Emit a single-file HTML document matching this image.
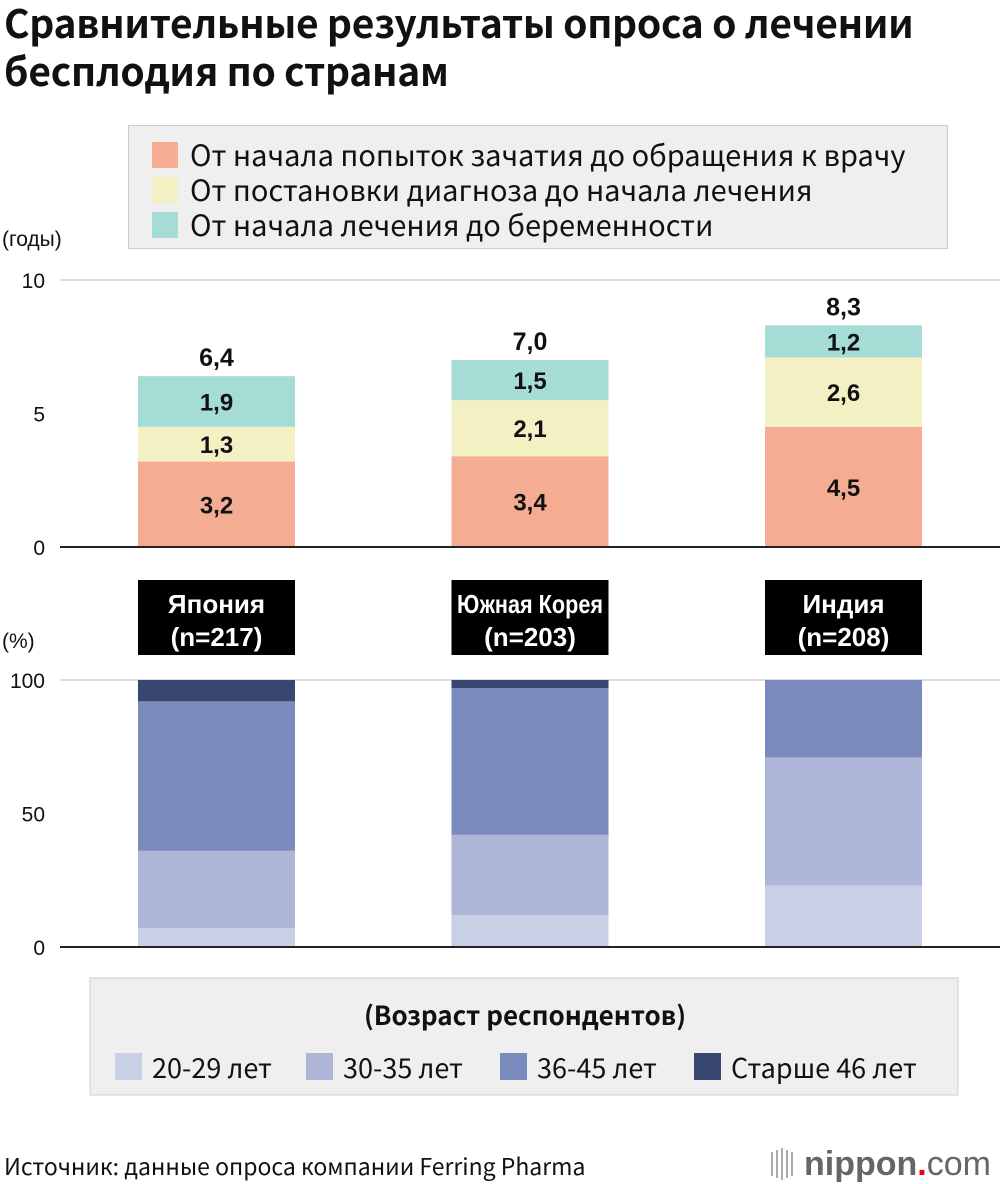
<!DOCTYPE html>
<html><head><meta charset="utf-8">
<style>
body{margin:0;width:1000px;height:1184px;background:#fff;font-family:"Liberation Sans","DejaVu Sans",sans-serif;position:relative;overflow:hidden}
.a{position:absolute}
</style></head><body>
<div class="a" style="left:4px;top:-2px;font-family:'Noto Sans CJK JP','Liberation Sans',sans-serif;font-size:39px;font-weight:bold;line-height:48px;color:#111;letter-spacing:-0.3px;white-space:nowrap">Сравнительные результаты опроса о лечении<br>бесплодия по странам</div>
<div class="a" style="left:128px;top:125px;width:820px;height:124px;background:#efefef;border:1px solid #ccc;box-sizing:border-box"></div>
<svg class="a" style="left:0;top:0" width="1000" height="1184" id="svg"></svg>
<script>
const countries=["Япония","Южная Корея","Индия"];
const nLabels=["(n=217)","(n=203)","(n=208)"];
const doctor=[3.2,3.4,4.5];
const diagnosis=[1.3,2.1,2.6];
const pregnancy=[1.9,1.5,1.2];
const totals=["6,4","7,0","8,3"];
const age2029=[7,12,23];
const age3035=[29,30,48];
const age3645=[56,55,29];
const age46=[8,3,0];
const topTicks=[0,5,10];
const botTicks=[0,50,100];
const NS="http://www.w3.org/2000/svg";
const NOTO="'Noto Sans CJK JP','Liberation Sans',sans-serif";
const svg=document.getElementById('svg');
function el(t,a,txt){const e=document.createElementNS(NS,t);for(const k in a)e.setAttribute(k,a[k]);if(txt!==undefined)e.textContent=txt;svg.appendChild(e);return e;}
const barX=i=>138+i*313.5, bw=157;
const yT=v=>547-v*26.7, yB=v=>947-v*2.67;
const fmt=v=>String(v).replace('.',',');
[280,680].forEach(y=>{const g=el('line',{x1:60,x2:1000,y1:y,y2:y,stroke:'#bbb','stroke-width':1});});
topTicks.forEach(t=>{const e=el('text',{x:45,y:yT(t)+8,'text-anchor':'end','font-size':21,fill:'#111'},t);});
botTicks.forEach(t=>{const e=el('text',{x:45,y:yB(t)+8,'text-anchor':'end','font-size':21,fill:'#111'},t);});
let u=el('text',{x:2,y:246,'font-size':21,fill:'#111'},'(годы)');
u=el('text',{x:2,y:648,'font-size':21,fill:'#111'},'(%)');
const topSeries=[[doctor,'#f4ad93'],[diagnosis,'#f3f0c4'],[pregnancy,'#a5ddd6']];
countries.forEach((c,i)=>{
 let base=0;
 topSeries.forEach(([arr,col],s)=>{const v=arr[i];
  const r=el('rect',{x:barX(i),y:yT(base+v),width:bw,height:v*26.7,fill:col});
  
  const t=el('text',{x:barX(i)+bw/2,y:yT(base+v/2)+9,'text-anchor':'middle','font-size':24,'font-weight':'bold',fill:'#111'},fmt(v));
  
  base+=v;});
 const tt=el('text',{x:barX(i)+bw/2,y:yT(base)-10,'text-anchor':'middle','font-size':25,'font-weight':'bold',fill:'#111'},totals[i]);
 
 const bx=el('rect',{x:barX(i),y:580,width:bw,height:75,fill:'#000'});
 
 const ca={x:barX(i)+bw/2,y:613,'text-anchor':'middle','font-size':26,'font-weight':'bold',fill:'#fff'};
 if(c.length>8){ca.textLength=146;ca.lengthAdjust='spacingAndGlyphs';}
 let t1=el('text',ca,c);
 
 t1=el('text',{x:barX(i)+bw/2,y:646,'text-anchor':'middle','font-size':26,'font-weight':'bold',fill:'#fff'},nLabels[i]);
 
 let b=0;
 [[age2029,'#c9d0e5'],[age3035,'#adb6d6'],[age3645,'#7b8bbd'],[age46,'#394670']].forEach(([arr,col])=>{const v=arr[i];
  const r=el('rect',{x:barX(i),y:yB(b+v),width:bw,height:v*2.67,fill:col});
  b+=v;});
});
let ax=el('line',{x1:60,x2:1000,y1:547,y2:547,stroke:'#222','stroke-width':2});
ax=el('line',{x1:60,x2:1000,y1:947,y2:947,stroke:'#222','stroke-width':2});
[['#f4ad93','От начала попыток зачатия до обращения к врачу'],['#f3f0c4','От постановки диагноза до начала лечения'],['#a5ddd6','От начала лечения до беременности']].forEach(([c,t],k)=>{
 const r=el('rect',{x:152,y:142+k*35,width:26,height:26,fill:c});
 const tx=el('text',{x:190,y:166+k*35,'font-size':29,'font-family':NOTO,fill:'#111'},t);});
const lb=el('rect',{x:90,y:978,width:868,height:117,fill:'#efefef',stroke:'#ccc'});
let lt=el('text',{x:525,y:1025,'text-anchor':'middle','font-size':26,'font-weight':'bold','font-family':NOTO,fill:'#111'},'(Возраст респондентов)');
[[115,'#c9d0e5','20-29 лет'],[306,'#adb6d6','30-35 лет'],[500,'#7b8bbd','36-45 лет'],[694,'#394670','Старше 46 лет']].forEach(([x,c,t])=>{
 const r=el('rect',{x:x,y:1053,width:27,height:27,fill:c});
 const tx=el('text',{x:x+37,y:1078,'font-size':27,'font-family':NOTO,fill:'#111'},t);});
let src=el('text',{x:4,y:1175,'font-size':23,'font-family':NOTO,fill:'#111'},'Источник: данные опроса компании Ferring Pharma');
for(let k=0;k<5;k++){const l=el('line',{x1:772+k*5,x2:772+k*5,y1:1152-(k==2?4:k%2?2:0),y2:1176+(k==2?4:k%2?2:0),stroke:'#aaa','stroke-width':2});}
const logo=el('text',{x:804,y:1175,'font-size':34,'font-weight':'bold',fill:'#666'});
logo.innerHTML='nippon<tspan fill="#e60012">.</tspan><tspan font-weight="normal">com</tspan>';
</script>
</body></html>
